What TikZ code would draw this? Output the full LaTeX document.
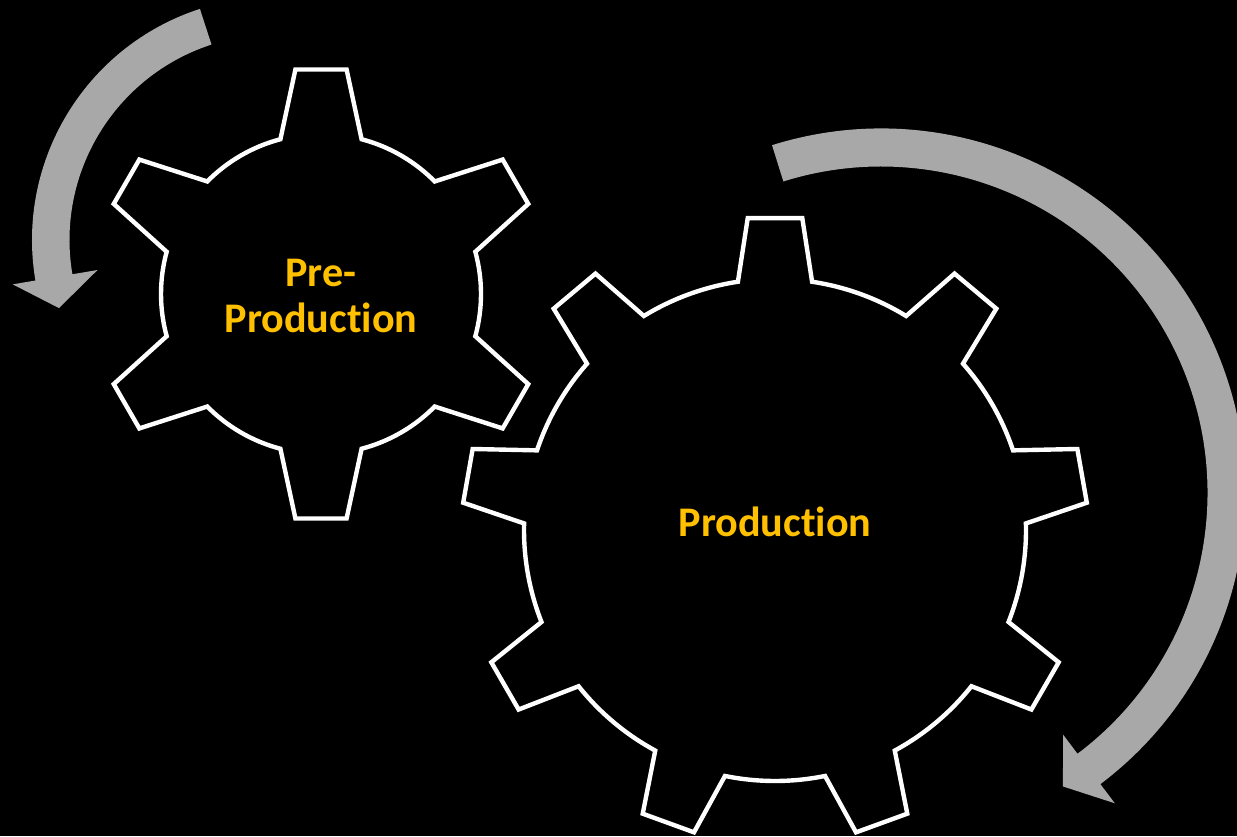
\documentclass[tikz,border=0pt]{standalone}
\usepackage{fontspec}
\setmainfont{Carlito}[Ligatures=NoCommon]
\usetikzlibrary{calc}
\definecolor{gold}{RGB}{255,192,0}
\definecolor{arrowgray}{RGB}{168,168,168}

\begin{document}
\begin{tikzpicture}[x=0.02cm, y=0.02cm,
        gearline/.style={draw=white, line width=2.5pt, line join=miter},
        geartext/.style={text=gold, font=\bfseries\fontsize{24}{26}\selectfont, align=center}]
        \fill[black] (0,0) rectangle (1237,836);
        \useasboundingbox (0,0) rectangle (1237,836);
        \clip (0,0) rectangle (1237,836);

        % small gear, 6 teeth
        \begin{scope}[shift={(321,542)}]
        \draw[gearline] (75.3:160) \foreach \a in {90,150,...,390} {
            -- (\a-6.5:226) -- (\a+6.5:226) -- (\a+14.7:160)
            arc[start angle=\a+14.7, end angle=\a+45.3, radius=160]} -- cycle;
        \end{scope}

        % big gear, 9 teeth
        \begin{scope}[shift={(775,306)}]
        \draw[gearline] (81.5:251) \foreach \a in {90,130,...,410} {
            -- (\a-5:313) -- (\a+5:313) -- (\a+8.5:251)
            arc[start angle=\a+8.5, end angle=\a+31.5, radius=251]} -- cycle;
        \end{scope}

        % turning arrows
        \begin{scope}[shift={(275,596)}]
        \fill[arrowgray] (108:243) arc[start angle=108, end angle=189.6, radius=243]
            -- (189.6:266) -- (197.5:226.5) -- (189.6:180) -- (189.6:205.5)
            arc[start angle=189.6, end angle=108, radius=205.5] -- cycle;
        \end{scope}
        \begin{scope}[shift={(881,343)}]
        \fill[arrowgray] (107.4:364.5) arc[start angle=107.4, end angle=-53, radius=364.5]
            -- (-53:388.5) -- (-58.2:345.3) -- (-53:302.5) -- (-53:326.5)
            arc[start angle=-53, end angle=107.4, radius=326.5] -- cycle;
        \end{scope}

        \node[geartext] (pre) at (321,540) {Pre-\\Production};
        \node[geartext, anchor=base] (prod) at (775,300) {Production};
\end{tikzpicture}
\end{document}
